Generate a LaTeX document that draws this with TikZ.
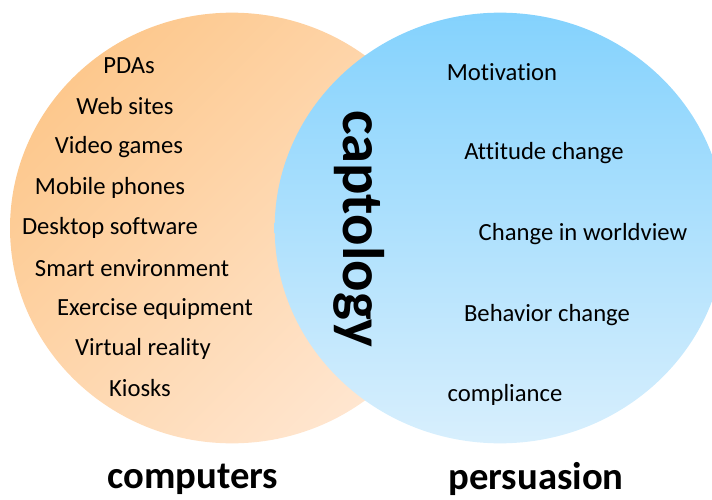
\documentclass[tikz,border=0pt]{standalone}
\usepackage{fontspec}
\setmainfont[Ligatures=NoCommon]{Carlito}
\definecolor{orangedark}{HTML}{FDC88D}
\definecolor{orangelight}{HTML}{FFE6D0}
\definecolor{bluedark}{HTML}{84D2FD}
\definecolor{bluelight}{HTML}{D8EFFD}

\begin{document}
\begin{tikzpicture}[x=0.75pt, y=-0.75pt,
  item/.style={inner sep=0pt, font=\fontsize{18.5}{22}\selectfont},
  setname/.style={inner sep=0pt, font=\fontsize{29}{34}\selectfont\bfseries},
  field/.style={inner sep=0pt, rotate=-90, font=\fontsize{44}{50}\selectfont\bfseries}]

\useasboundingbox (0,0) rectangle (712,499);

\shade [top color=orangedark, bottom color=orangelight, shading angle=45] (232,228) ellipse [x radius=166.5pt, y radius=161.5pt];
\shade [top color=bluedark, bottom color=bluelight] (500,228) ellipse [x radius=169pt, y radius=161.5pt];

\node [item] (pdas) at (129,66) {PDAs};
\node [item] (websites) at (125,106) {Web sites};
\node [item] (videogames) at (119,147) {Video games};
\node [item] (mobile) at (110,188) {Mobile phones};
\node [item] (desktop) at (110,228) {Desktop software};
\node [item] (smartenv) at (132,268) {Smart environment};
\node [item] (exercise) at (155,309) {Exercise equipment};
\node [item] (virtual) at (143,349) {Virtual reality};
\node [item] (kiosks) at (140,388) {Kiosks};

\node [item] (motivation) at (502,72) {Motivation};
\node [item] (attitude) at (544,153) {Attitude change};
\node [item] (worldview) at (583,234) {Change in worldview};
\node [item] (behavior) at (547,315) {Behavior change};
\node [item] (compliance) at (505,395) {compliance};

\node [field] (captology) at (359,229) {captology};

\node [setname] (computers) at (193,479) {computers};
\node [setname] (persuasion) at (536,479) {persuasion};

\end{tikzpicture}
\end{document}
